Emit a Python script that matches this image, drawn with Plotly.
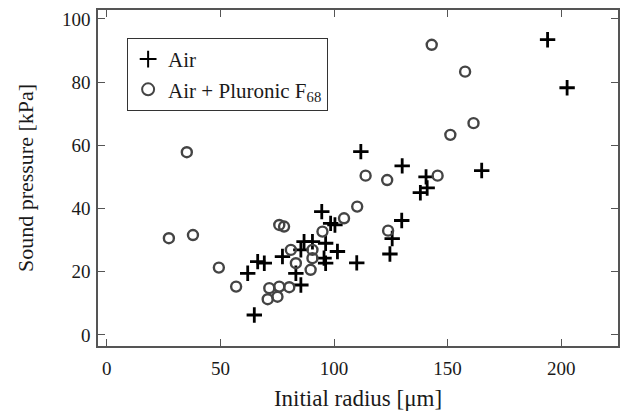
import plotly.graph_objects as go

air_x = [194, 202.6, 165, 111.8, 130, 140.5, 141, 138, 129.8, 125.6, 124.6, 110,
         94.6, 98.5, 100.4, 86.8, 90.5, 96.3, 101.5, 77.3, 66.4, 69.3, 96.3, 85.4,
         83.2, 85.4, 62, 64.9, 95.6]
air_y = [93.4, 78.2, 52, 58, 53.5, 50, 46.5, 45, 36.2, 30.5, 25.6, 22.8,
         39, 35.3, 34.8, 29.5, 29.5, 29, 26.4, 24.8, 23.2, 22.7, 22.7, 26.9,
         19.5, 15.8, 19.5, 6.3, 24.3]

plu_x = [143, 157.7, 161.4, 151.2, 145.6, 123.4, 113.9, 110.2, 123.8, 35.2, 27.3,
         37.9, 49.3, 56.9, 75.9, 78, 104.4, 94.9, 81, 90.5, 90.5, 83.2, 89.7, 71.5,
         75.9, 80.3, 70.8, 75.1]
plu_y = [91.8, 83.3, 67, 63.3, 50.4, 49, 50.4, 40.6, 33, 57.8, 30.6,
         31.6, 21.3, 15.3, 34.8, 34.3, 36.9, 32.7, 26.9, 26.9, 24.3, 22.7, 20.6, 14.8,
         15.3, 15.1, 11.3, 12.1]

x_ticks = [0, 50, 100, 150, 200]
y_ticks = [0, 20, 40, 60, 80, 100]

font = "Liberation Serif"
txt = "#1a1a1a"

fig = go.Figure()
fig.add_trace(go.Scatter(
    x=air_x, y=air_y, mode="markers", name="Air",
    marker=dict(symbol="cross-thin-open", size=11, color="black",
                line=dict(width=2.8, color="black"))))
fig.add_trace(go.Scatter(
    x=plu_x, y=plu_y, mode="markers", name="Air + Pluronic F<sub>68</sub>",
    marker=dict(symbol="circle-open", size=10, color="#444444",
                line=dict(width=2.4, color="#444444"))))

axis_common = dict(
    showline=True, linecolor="#555555", linewidth=1.5, mirror="ticks",
    ticks="inside", ticklen=7, tickwidth=1.2, tickcolor="#555555",
    showgrid=False, zeroline=False,
    tickfont=dict(family=font, size=19, color=txt),
)

fig.update_xaxes(range=[-3.9, 225], tickvals=x_ticks,
                 title=dict(text="Initial radius [μm]", font=dict(family=font, size=23, color=txt),
                            standoff=12),
                 ticklabelstandoff=4, **axis_common)
fig.update_yaxes(range=[-3.5, 102.8], tickvals=y_ticks,
                 title=dict(text="Sound pressure [kPa]", font=dict(family=font, size=22, color=txt),
                            standoff=22),
                 ticklabelstandoff=2, **axis_common)

fig.update_layout(
    width=627, height=417,
    margin=dict(l=98, r=7, t=10, b=71),
    plot_bgcolor="white", paper_bgcolor="white",
    font=dict(family=font, color=txt),
    legend=dict(x=0.056, y=0.917, xanchor="left", yanchor="top",
                bordercolor="#333333", borderwidth=1, bgcolor="white",
                font=dict(family=font, size=21, color=txt),
                tracegroupgap=0, itemsizing="constant"),
)

fig.write_html("out.html")
